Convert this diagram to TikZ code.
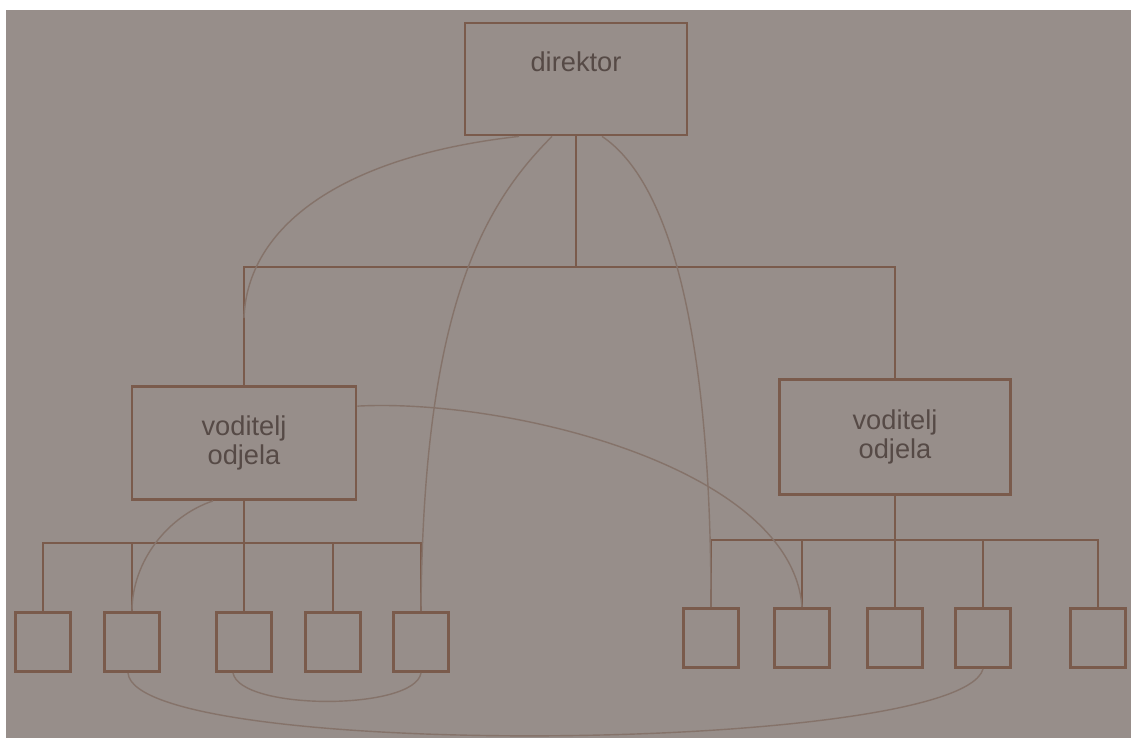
\documentclass[tikz,border=0pt]{standalone}
\usepackage{fontspec}
\setsansfont{Liberation Sans}
\usetikzlibrary{calc}
\definecolor{cpaper}{HTML}{978E8A}
\definecolor{cink}{HTML}{7A5B4C}
\definecolor{cthread}{HTML}{85736A}
\definecolor{ctext}{HTML}{564A46}
\tikzset{
  every picture/.style={font=\sffamily\fontsize{15.5}{16.5}\selectfont, line width=1.6pt},
  head/.style={draw=cink, text=ctext, align=center, minimum width=4.48cm, minimum height=2.26cm},
  unit/.style={draw=cink, minimum width=1.1cm, minimum height=1.18cm},
  tree/.style={draw=cink, line width=1.6pt},
  link/.style={draw=cthread, line width=0.8pt},
}
\begin{document}
\begin{tikzpicture}[x=0.02cm, y=-0.02cm]
  \useasboundingbox (0,0) rectangle (1131,738);
  \fill[white] (0,0) rectangle (1131,738);
  \fill[cpaper] (6,10) rectangle (1131,738);
  % boxes
  \node[head, minimum width=4.44cm, minimum height=2.24cm, text depth=0.68cm] (dir) at (576,79) {direktor};
  \node[head] (headL) at (244,443) {voditelj\\odjela};
  \node[head, minimum width=4.62cm, minimum height=2.3cm] (headR) at (895,437) {voditelj\\odjela};
  \node[unit] (wL1) at (43,642) {};
  \node[unit] (wL2) at (132,642) {};
  \node[unit] (wL3) at (244,642) {};
  \node[unit] (wL4) at (333,642) {};
  \node[unit] (wL5) at (421,642) {};
  \node[unit] (wR1) at (711,638) {};
  \node[unit] (wR2) at (802,638) {};
  \node[unit] (wR3) at (895,638) {};
  \node[unit] (wR4) at (983,638) {};
  \node[unit] (wR5) at (1098,638) {};
  % hierarchy
  \draw[tree] (dir.south) -- (dir.south |- 0,267) coordinate (split);
  \draw[tree] (headL.north) |- (split) -| (headR.north);
  \draw[tree] (headL.south) -- (wL3.north);
  \draw[tree] (wL1.north) |- (headL.south |- 0,543) -| (wL5.north);
  \draw[tree] (wL2.north) -- (wL2.north |- 0,543);
  \draw[tree] (wL4.north) -- (wL4.north |- 0,543);
  \draw[tree] (headR.south) -- (wR3.north);
  \draw[tree] (wR1.north) |- (headR.south |- 0,540) -| (wR5.north);
  \draw[tree] (wR2.north) -- (wR2.north |- 0,540);
  \draw[tree] (wR4.north) -- (wR4.north |- 0,540);
  % informal links
  \draw[link] ($(dir.south)+(-57,0)$) .. controls +(-180,20) and +(3,-90) .. ($(headL.north)+(0,-67)$);
  \draw[link] ($(dir.south)+(-24,0)$) .. controls +(-70,70) and +(2,-300) .. (wL5.north);
  \draw[link] ($(dir.south)+(26,0)$) .. controls +(60,40) and +(0,-300) .. (wR1.north);
  \draw[link] ($(headL.north east)+(0,21)$) .. controls +(150,-8) and +(-10,-140) .. (wR2.north);
  \draw[link] ($(headL.south)+(-31,0)$) .. controls +(-45,15) and +(0,-50) .. (wL2.north);
  \draw[link] ($(wL3.south)+(-11,0)$) .. controls +(7,38) and +(-6,38) .. (wL5.south);
  \draw[link] ($(wL2.south)+(-4,0)$) .. controls +(7,88) and +(-23,85) .. (wR4.south);
\end{tikzpicture}
\end{document}
